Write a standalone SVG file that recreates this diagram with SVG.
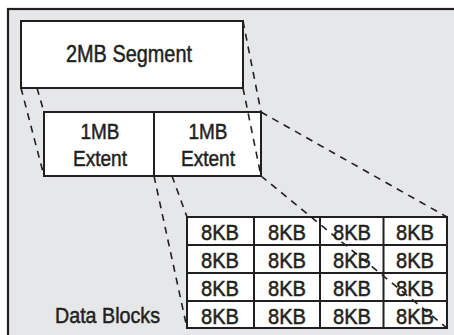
<svg xmlns="http://www.w3.org/2000/svg" width="454" height="335" viewBox="0 0 454 335">
  <style>
    .box { fill: #ffffff; stroke: #231f20; stroke-width: 2; }
    .grid { fill: none; stroke: #231f20; stroke-width: 2; }
    .lbl { font-family: "Liberation Sans", Arial, sans-serif; fill: #231f20; stroke: #231f20; stroke-width: 0.5; text-anchor: middle; }
    .dash { fill: none; stroke: #231f20; stroke-width: 1.6; stroke-dasharray: 7 6; }
  </style>
  <rect x="0" y="0" width="454" height="335" fill="#ffffff"/>
  <g id="frame">
    <rect x="8" y="9" width="450" height="330" fill="#e6e7e8" stroke="#231f20" stroke-width="2.2"/>
  </g>
  <g id="segment">
    <rect class="box" x="21" y="21" width="222" height="67"/>
    <text class="lbl" x="129" y="62" font-size="23.5" textLength="126" lengthAdjust="spacingAndGlyphs">2MB Segment</text>
  </g>
  <g id="extent1">
    <rect class="box" x="44" y="112" width="110" height="64"/>
    <text class="lbl" x="100" y="138.5" font-size="22" textLength="39" lengthAdjust="spacingAndGlyphs">1MB</text>
    <text class="lbl" x="100" y="165.5" font-size="22" textLength="54" lengthAdjust="spacingAndGlyphs">Extent</text>
  </g>
  <g id="extent2">
    <rect class="box" x="154" y="112" width="107" height="64"/>
    <text class="lbl" x="208" y="138.5" font-size="22" textLength="39" lengthAdjust="spacingAndGlyphs">1MB</text>
    <text class="lbl" x="208" y="165.5" font-size="22" textLength="54" lengthAdjust="spacingAndGlyphs">Extent</text>
  </g>
  <g id="data-blocks">
    <rect class="box" x="187" y="217" width="260" height="111"/>
    <path class="grid" d="M254 217V328M320 217V328M383.5 217V328M187 245H447M187 273H447M187 301H447"/>
    <g class="lbl" font-size="22">
      <text x="220" y="239.5" textLength="38" lengthAdjust="spacingAndGlyphs">8KB</text><text x="287" y="239.5" textLength="38" lengthAdjust="spacingAndGlyphs">8KB</text><text x="352" y="239.5" textLength="38" lengthAdjust="spacingAndGlyphs">8KB</text><text x="415" y="239.5" textLength="38" lengthAdjust="spacingAndGlyphs">8KB</text>
      <text x="220" y="267.5" textLength="38" lengthAdjust="spacingAndGlyphs">8KB</text><text x="287" y="267.5" textLength="38" lengthAdjust="spacingAndGlyphs">8KB</text><text x="352" y="267.5" textLength="38" lengthAdjust="spacingAndGlyphs">8KB</text><text x="415" y="267.5" textLength="38" lengthAdjust="spacingAndGlyphs">8KB</text>
      <text x="220" y="295.5" textLength="38" lengthAdjust="spacingAndGlyphs">8KB</text><text x="287" y="295.5" textLength="38" lengthAdjust="spacingAndGlyphs">8KB</text><text x="352" y="295.5" textLength="38" lengthAdjust="spacingAndGlyphs">8KB</text><text x="415" y="295.5" textLength="38" lengthAdjust="spacingAndGlyphs">8KB</text>
      <text x="220" y="323.5" textLength="38" lengthAdjust="spacingAndGlyphs">8KB</text><text x="287" y="323.5" textLength="38" lengthAdjust="spacingAndGlyphs">8KB</text><text x="352" y="323.5" textLength="38" lengthAdjust="spacingAndGlyphs">8KB</text><text x="415" y="323.5" textLength="38" lengthAdjust="spacingAndGlyphs">8KB</text>
    </g>
  </g>
  <g id="data-blocks-label">
    <text class="lbl" x="107.5" y="323" font-size="22.5" textLength="105" lengthAdjust="spacingAndGlyphs">Data Blocks</text>
  </g>
  <g id="connectors">
    <line class="dash" x1="21" y1="88" x2="44" y2="176"/>
    <line class="dash" x1="37" y1="88" x2="44" y2="112"/>
    <line class="dash" x1="243" y1="21" x2="261" y2="112"/>
    <line class="dash" x1="243" y1="88" x2="261" y2="176"/>
    <line class="dash" x1="154" y1="176" x2="187" y2="328"/>
    <line class="dash" x1="172" y1="176" x2="187" y2="217"/>
    <line class="dash" x1="261" y1="112" x2="447" y2="217"/>
    <line class="dash" x1="261" y1="176" x2="447" y2="328"/>
  </g>
</svg>
